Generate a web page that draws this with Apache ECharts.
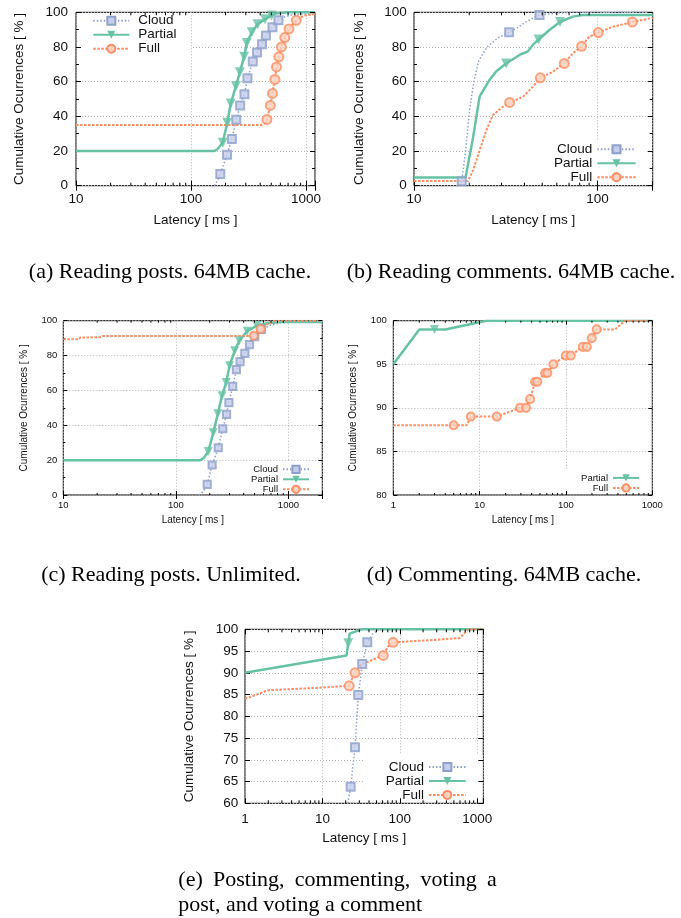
<!DOCTYPE html>
<html><head><meta charset="utf-8">
<script src="https://cdn.jsdelivr.net/npm/echarts@6/dist/echarts.min.js"></script>
<style>html,body{margin:0;padding:0;background:#fff;}#c{width:681px;height:918px;}</style>
</head><body><div id="c"></div>
<script>
const yTitle = 'Cumulative Ocurrences [ % ]';
const xTitle = 'Latency [ ms ]';
const seriesNames = ['Cloud', 'Partial', 'Full'];

// ---- (a) Reading posts. 64MB cache.
const aXTicks = [10, 100, 1000];
const aYTicks = [0, 20, 40, 60, 80, 100];
const aCloudLine = [[160,0],[170,3],[180,6.7],[206,17.8],[227,26.9],[248,38],[268,46.3],[292,52.8],[310,62],[345,71.6],[376,76.8],[415,81.6],[449,86.6],[512,91.4],[577,95.4],[650,97.3],[750,98.5],[900,99],[1200,99]];
const aCloudMarks = [[180,6.7],[206,17.8],[227,26.9],[248,38],[268,46.3],[292,52.8],[310,62],[345,71.6],[376,76.8],[415,81.6],[449,86.6],[512,91.4],[577,95.4]];
const aPartialLine = [[10,20],[160,20],[170,21],[180,23],[189,24.8],[207,36.3],[222,47.4],[246,57.4],[266,65.4],[290,74.3],[306,82.3],[338,88.5],[380,93.1],[441,96],[502,98.1],[560,99.5],[700,100],[1200,100]];
const aPartialMarks = [[189,24.8],[207,36.3],[222,47.4],[246,57.4],[266,65.4],[290,74.3],[306,82.3],[338,88.5],[380,93.1],[441,96],[502,98.1]];
const aFullLine = [[10,35],[409,35],[440,36],[458,38.2],[490,46.3],[512,53.2],[537,61.3],[555,68.5],[582,74.3],[612,80],[655,85.4],[713,90.4],[824,95.4],[950,98],[1200,99]];
const aFullMarks = [[458,38.2],[490,46.3],[512,53.2],[537,61.3],[555,68.5],[582,74.3],[612,80],[655,85.4],[713,90.4],[824,95.4]];

// ---- (b) Reading comments. 64MB cache.
const bXTicks = [10, 100];
const bYTicks = [0, 20, 40, 60, 80, 100];
const bCloudLine = [[17.6,0],[18.2,2.5],[19.2,22],[20.1,44],[21.2,60],[22.5,72],[25,80],[28.5,85],[33,88.5],[36.5,91],[40.9,94.6],[48.3,98.5],[60,99.5],[70,100],[200,100]];
const bCloudMarks = [[18.2,2.5],[33,88.5],[48.3,98.5]];
const bPartialLine = [[10,4.8],[19.1,4.8],[21,28],[22.8,51.5],[25.8,61],[28.1,66],[31.8,70.5],[37.6,75.4],[41.7,77.4],[44.4,81.2],[47.8,84.3],[54.7,89.8],[62.5,94.4],[73.3,97.5],[83,98.5],[200,98.5]];
const bPartialMarks = [[31.8,70.5],[47.8,84.3],[62.5,94.4]];
const bFullLine = [[10,2.7],[19.7,2.7],[21,9],[22.8,20.5],[24.8,32],[26.9,40.7],[30.5,45.5],[33.2,48],[39.2,51.2],[44.4,57],[48.8,62.2],[57,65.6],[65.9,70.5],[73.2,76.2],[82,80.4],[90,85.8],[101,88.3],[120,91.5],[155,94.4],[200,96.8]];
const bFullMarks = [[33.2,48],[48.8,62.2],[65.9,70.5],[82,80.4],[101,88.3],[155,94.4]];

// ---- (c) Reading posts. Unlimited.
const cXTicks = [10, 100, 1000];
const cYTicks = [0, 20, 40, 60, 80, 100];
const cCloudLine = [[160,0],[175,2],[190,6.1],[210,17.2],[238,27.1],[261,38],[282,46.3],[296,53],[320,62.3],[345,71.9],[372,76.5],[410,81.2],[451,86.3],[502,90.8],[576,95],[700,97.5],[850,98.8],[1200,99.3],[2000,99.3]];
const cCloudMarks = [[190,6.1],[210,17.2],[238,27.1],[261,38],[282,46.3],[296,53],[320,62.3],[345,71.9],[372,76.5],[410,81.2],[451,86.3],[502,90.8],[576,95]];
const cPartialLine = [[10,20],[165,20],[175,21],[185,23],[194,24.9],[215,35.7],[236,46.6],[257,57],[280,64.5],[300,74.2],[333,82.7],[366,88.5],[430,94],[525,97.2],[650,98.6],[850,99.2],[2000,99.2]];
const cPartialMarks = [[194,24.9],[215,35.7],[236,46.6],[257,57],[280,64.5],[300,74.2],[333,82.7],[366,88.5],[430,94],[525,97.2]];
const cFullLine = [[10,89.3],[13.6,89.3],[14.2,90.4],[21,90.5],[22.5,91.2],[470,91.2],[493,91.4],[530,93.8],[566,95.2],[650,98],[745,100],[2000,100]];
const cFullMarks = [[493,91.4],[566,95.2]];

// ---- (d) Commenting. 64MB cache.
const dXTicks = [1, 10, 100, 1000];
const dYTicks = [80, 85, 90, 95, 100];
const dPartialLine = [[1,95],[2,99],[3,99],[4,99],[12,100],[1000,100]];
const dPartialMarks = [[3,99]];
const dFullLine = [[1,88],[5,88],[7.1,88],[7.9,89],[15.8,89],[29.4,90],[34.5,90],[38.4,91],[43.9,93],[46.6,93],[57.3,94],[60.9,94],[71.5,95],[99.5,96],[113.6,96],[156.6,97],[174.3,97],[199,98],[227,99],[371,99],[484,100],[1000,100]];
const dFullMarks = [[5,88],[7.9,89],[15.8,89],[29.4,90],[34.5,90],[38.4,91],[43.9,93],[46.6,93],[57.3,94],[60.9,94],[71.5,95],[99.5,96],[113.6,96],[156.6,97],[174.3,97],[199,98],[227,99]];

// ---- (e) Posting, commenting, voting
const eXTicks = [1, 10, 100, 1000];
const eYTicks = [60, 65, 70, 75, 80, 85, 90, 95, 100];
const eCloudLine = [[21.3,60],[23.2,63.8],[26.4,72.9],[29.1,84.9],[32.7,92],[38,97],[45,99],[54,100],[1200,100]];
const eCloudMarks = [[23.2,63.8],[26.4,72.9],[29.1,84.9],[32.7,92],[38,97]];
const ePartialLine = [[1,90],[20.5,94],[21.6,96.8],[22.5,99],[32,100],[1200,100]];
const ePartialMarks = [[21.6,96.8]];
const eFullLine = [[1,84],[2,86],[10,86.6],[22.2,87],[24,88.5],[26.4,90],[32,92],[45,93],[61,94],[70,96],[82,97],[300,97.6],[600,98],[760,100],[1200,100]];
const eFullMarks = [[22.2,87],[26.4,90],[61,94],[82,97]];

const captionsAB = ['(a) Reading posts. 64MB cache.', '(b) Reading comments. 64MB cache.'];
const captionsCD = ['(c) Reading posts. Unlimited.', '(d) Commenting. 64MB cache.'];
const captionE1 = ['(e)', 'Posting,', 'commenting,', 'voting', 'a'];
const captionE2 = 'post, and voting a comment';

// ---------------- layout / style ----------------
const FONT = 'Liberation Sans';
const SERIF = 'Liberation Serif';
const styles = {
  Cloud:   { line:{color:'#8da0cb', width:1.5, type:[1.5,2]}, symbol:'rect', size:8, rot:0,
             item:{color:'#c5cdea', borderColor:'#8da0cb', borderWidth:2} },
  Partial: { line:{color:'#66c2a5', width:2.5, type:'solid'}, symbol:'triangle', size:10, rot:180,
             item:{color:'#66c2a5'} },
  Full:    { line:{color:'#fc8d62', width:2, type:[2.5,1.5]}, symbol:'circle', size:9, rot:0,
             item:{color:'#fdd3c2', borderColor:'#fc8d62', borderWidth:2} }
};

const panels = [
  { grid:[76,12.3,239,173.4], xr:[10,1200], xt:aXTicks, yt:aYTicks, big:true, minorY:true,
    data:{Cloud:[aCloudLine,aCloudMarks], Partial:[aPartialLine,aPartialMarks], Full:[aFullLine,aFullMarks]},
    leg:{pos:{left:92.3}, top:13.7, lh:13.8, iw:36, ih:10, align:'left', pad:4},
    box:[82,13.5,109,42.5], yGap:50, xGap:27.5, xMargin:7, yMargin:8 },
  { grid:[414,12.3,238.7,173.4], xr:[10,200], xt:bXTicks, yt:bYTicks, big:true, minorY:true,
    data:{Cloud:[bCloudLine,bCloudMarks], Partial:[bPartialLine,bPartialMarks], Full:[bFullLine,bFullMarks]},
    leg:{pos:{right:44.3}, top:142.3, lh:13.35, iw:38.4, ih:10, align:'right', pad:0},
    box:[474,141,177.5,39], yGap:48, xGap:27.5, xMargin:7, yMargin:7.3 },
  { grid:[63.3,320.7,259,174.3], xr:[10,2000], xt:cXTicks, yt:cYTicks, big:false, minorY:true,
    data:{Cloud:[cCloudLine,cCloudMarks], Partial:[cPartialLine,cPartialMarks], Full:[cFullLine,cFullMarks]},
    leg:{pos:{right:371}, top:464.3, lh:9.35, iw:26, ih:9, align:'right', pad:0},
    box:[245,461,76,28.5], yGap:34, xGap:20, xMargin:5, yMargin:6 },
  { grid:[393.3,320.7,259,174.3], xr:[1,1000], xt:dXTicks, yt:dYTicks, big:false, minorY:false,
    data:{Partial:[dPartialLine,dPartialMarks], Full:[dFullLine,dFullMarks]},
    leg:{pos:{right:41}, top:472.9, lh:9.6, iw:26, ih:9, align:'right', pad:0},
    box:[545,470,106,19.5], yGap:35.5, xGap:20, xMargin:5, yMargin:6.6 },
  { grid:[245,629.3,238.3,174], xr:[1,1200], xt:eXTicks, yt:eYTicks, big:false, minorY:false, eBig:true,
    data:{Cloud:[eCloudLine,eCloudMarks], Partial:[ePartialLine,ePartialMarks], Full:[eFullLine,eFullMarks]},
    leg:{pos:{right:214.3}, top:759.9, lh:13.65, iw:36.7, ih:10, align:'right', pad:0},
    box:[365,755,117.5,42.5], yGap:49, xGap:28, xMargin:9, yMargin:6.7 }
];

const grids = [], xAxes = [], yAxes = [], series = [], legends = [], graphics = [];
panels.forEach((p, i) => {
  const large = p.big || p.eBig;
  const fs = large ? 13.5 : 9.5;
  const nfs = large ? 13.5 : 10;
  const tl = large ? 5 : 4, ml = large ? 3 : 2;
  grids.push({ left:p.grid[0], top:p.grid[1], width:p.grid[2], height:p.grid[3], show:true,
    borderColor:'#000', borderWidth:1, backgroundColor:'transparent', containLabel:false, outerBoundsMode:'none' });
  const ymin = p.yt[0], ymax = p.yt[p.yt.length-1], yint = p.yt[1] - p.yt[0];
  const xt = p.xt;
  const fmtX = v => { const m = xt.find(t => Math.abs(t - v) / t < 1e-6); return m === undefined ? '' : String(m); };
  const tick = { show:true, inside:true, length:tl, lineStyle:{color:'#000', width:1} };
  const split = { show:true, lineStyle:{color:'#b4b4b4', width:1, type:[1,2]} };
  const lab = { fontFamily:FONT, fontSize:fs, color:'#111' };
  xAxes.push({ type:'log', logBase:10, gridIndex:i, position:'bottom', min:p.xr[0], max:p.xr[1],
    name:xTitle, nameLocation:'middle', nameGap:p.xGap, nameTextStyle:{fontFamily:FONT, fontSize:nfs, color:'#111'},
    axisLine:{show:false}, axisTick:tick,
    axisLabel:Object.assign({ formatter:fmtX, margin:p.xMargin, hideOverlap:false }, lab),
    splitLine:split, z:0 });
  xAxes.push({ type:'log', logBase:10, gridIndex:i, position:'top', min:p.xr[0], max:p.xr[1],
    axisLine:{show:false}, axisTick:tick, axisLabel:{show:false}, splitLine:{show:false}, z:3 });
  const minorT = p.minorY ? { show:true, splitNumber:2, length:ml, lineStyle:{color:'#000', width:1} } : { show:false };
  yAxes.push({ type:'value', gridIndex:i, position:'left', min:ymin, max:ymax, interval:yint,
    name:yTitle, nameLocation:'middle', nameGap:p.yGap, nameRotate:90,
    nameTextStyle:{fontFamily:FONT, fontSize:nfs, color:'#111'},
    axisLine:{show:false}, axisTick:tick, minorTick:minorT,
    axisLabel:Object.assign({ margin:p.yMargin, hideOverlap:false }, lab),
    splitLine:split, z:0 });
  yAxes.push({ type:'value', gridIndex:i, position:'right', min:ymin, max:ymax, interval:yint,
    axisLine:{show:false}, axisTick:tick, minorTick:minorT, axisLabel:{show:false}, splitLine:{show:false}, z:3 });

  seriesNames.forEach(n => {
    if (!p.data[n]) return;
    const st = styles[n];
    const line = p.data[n][0], marks = p.data[n][1];
    const sz = large ? st.size : st.size * 0.9;
    series.push({ type:'line', name:n, xAxisIndex:2*i, yAxisIndex:2*i, data:line, showSymbol:false,
      symbol:st.symbol, symbolSize:sz, symbolRotate:st.rot, itemStyle:st.item, lineStyle:st.line,
      smooth:false, clip:true, silent:true, animation:false, z:2, emphasis:{disabled:true} });
    series.push({ type:'scatter', name:n, xAxisIndex:2*i, yAxisIndex:2*i, data:marks,
      symbol:st.symbol, symbolSize:sz, symbolRotate:st.rot, itemStyle:st.item,
      silent:true, animation:false, z:3, emphasis:{disabled:true} });
  });

  // minor ticks of the log axis (bottom and top)
  const minors = [];
  for (let d = Math.pow(10, Math.floor(Math.log10(p.xr[0]))); d < p.xr[1]; d *= 10) {
    for (let k = 2; k <= 9; k++) {
      const v = k * d;
      if (v > p.xr[0] * 1.0001 && v < p.xr[1] * 0.9999) minors.push([v, ymin]);
    }
  }
  series.push({ type:'custom', xAxisIndex:2*i, yAxisIndex:2*i, data:minors, clip:false, silent:true,
    animation:false, z:4,
    renderItem:(params, api) => {
      const v = api.value(0);
      const b = api.coord([v, ymin]), t = api.coord([v, ymax]);
      return { type:'group', children:[
        { type:'line', shape:{x1:b[0], y1:b[1], x2:b[0], y2:b[1]-ml}, style:{stroke:'#000', lineWidth:1} },
        { type:'line', shape:{x1:t[0], y1:t[1], x2:t[0], y2:t[1]+ml}, style:{stroke:'#000', lineWidth:1} }
      ]};
    } });

  legends.push(Object.assign({ show:true, data:seriesNames.filter(n => p.data[n]), orient:'vertical',
    top:p.leg.top, padding:0, itemGap:0, itemWidth:p.leg.iw, itemHeight:p.leg.ih, align:p.leg.align,
    selectedMode:false, backgroundColor:'transparent', z:5,
    textStyle:{ fontFamily:FONT, fontSize:fs, color:'#111', lineHeight:p.leg.lh,
      padding: p.leg.pad ? [0,0,0,p.leg.pad] : 0 } }, p.leg.pos));

  graphics.push({ type:'rect', silent:true, z:1,
    shape:{x:p.box[0], y:p.box[1], width:p.box[2], height:p.box[3]}, style:{fill:'#fff'} });
});

const capStyle = (text, x, y, align) => ({ type:'text', silent:true, z:5,
  style:{ text, x, y, fill:'#000', font:'22px "' + SERIF + '"', textAlign:align, textVerticalAlign:'middle', verticalAlign:'middle' } });
graphics.push(capStyle(captionsAB[0], 170, 272, 'center'));
graphics.push(capStyle(captionsAB[1], 511, 272, 'center'));
graphics.push(capStyle(captionsCD[0], 171, 575, 'center'));
graphics.push(capStyle(captionsCD[1], 504, 575, 'center'));
const eWordX = [178.3, 213, 294.8, 420.6, 487.1];
captionE1.forEach((w, k) => graphics.push(capStyle(w, eWordX[k], 880, 'left')));
graphics.push(capStyle(captionE2, 178.3, 905, 'left'));

const chart = echarts.init(document.getElementById('c'), null, { renderer:'canvas' });
chart.setOption({
  animation:false,
  backgroundColor:'#fff',
  grid:grids, xAxis:xAxes, yAxis:yAxes, series:series, legend:legends, graphic:graphics
});
</script></body></html>
